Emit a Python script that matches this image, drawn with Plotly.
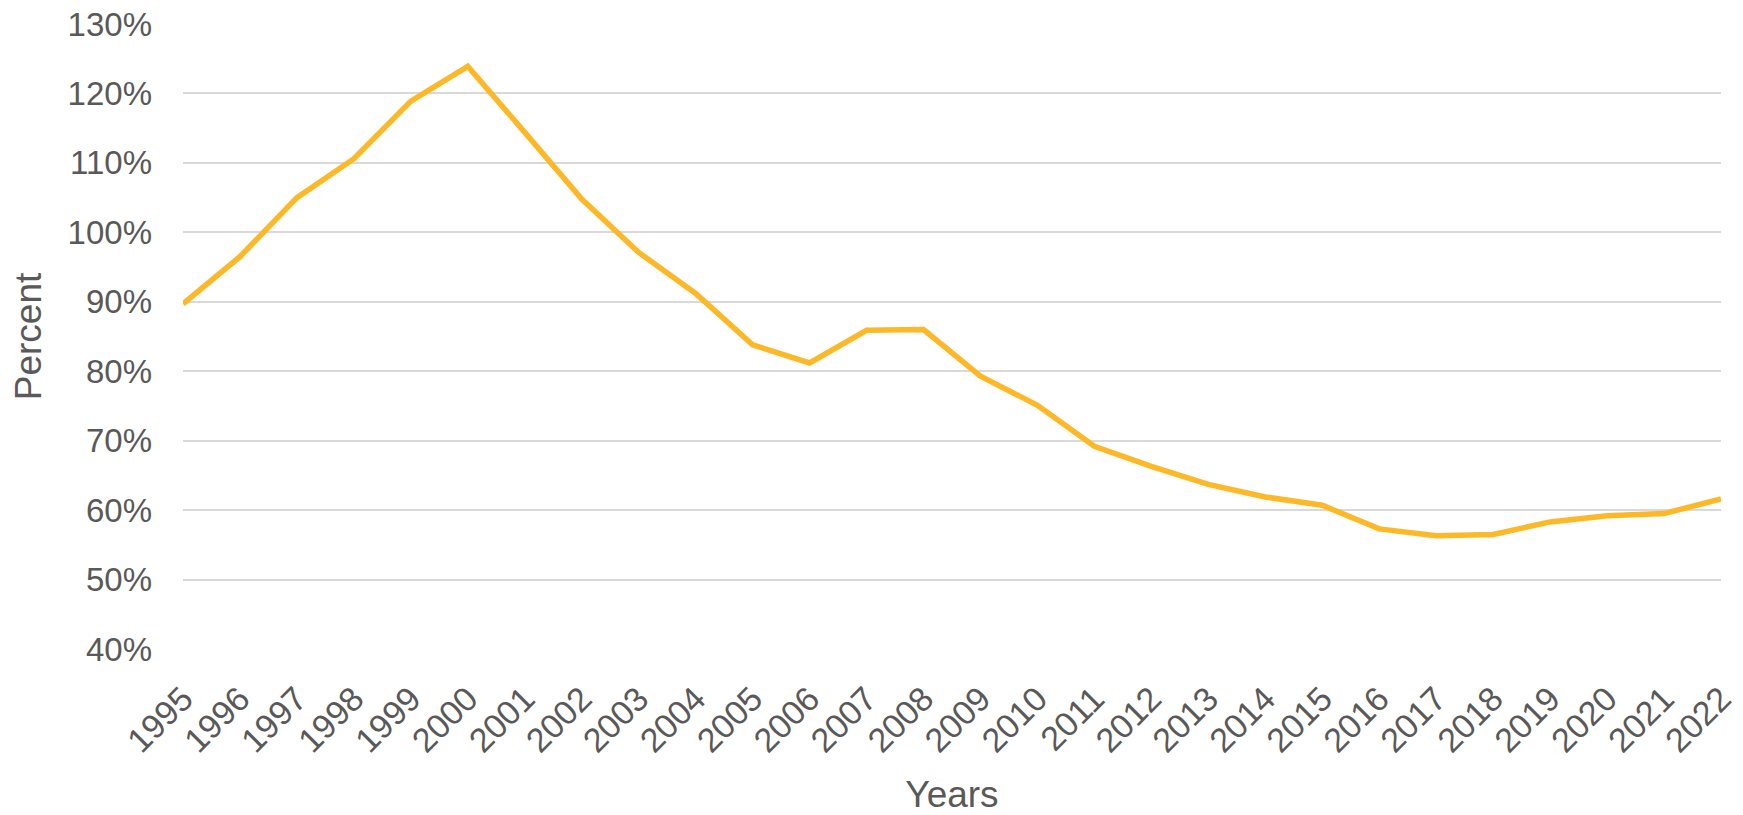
import plotly.graph_objects as go

years = list(range(1995, 2023))
percent = [89.7, 96.5, 105.0, 110.6, 118.9, 123.9, 114.4, 104.8, 97.1, 91.2,
           83.8, 81.2, 85.9, 86.0, 79.3, 75.1, 69.2, 66.3, 63.7, 61.9,
           60.7, 57.3, 56.3, 56.5, 58.3, 59.2, 59.5, 61.6]
y_ticks = list(range(40, 131, 10))

fig = go.Figure(
    go.Scatter(
        x=years,
        y=percent,
        mode="lines",
        line=dict(color="#FDB827", width=5.5),
        hoverinfo="x+y",
    )
)

font_family = "Liberation Sans, Arial, sans-serif"
grey = "#595959"

fig.update_layout(
    width=1743,
    height=815,
    margin=dict(l=183, r=22, t=24, b=166),
    plot_bgcolor="white",
    paper_bgcolor="white",
    showlegend=False,
    font=dict(family=font_family, color=grey),
    xaxis=dict(
        range=[1995, 2022],
        tickvals=years,
        ticktext=[str(y) for y in years],
        tickangle=-45,
        tickfont=dict(size=34, color=grey),
        showgrid=False,
        zeroline=False,
        showline=False,
        ticks="",
        ticklabelstandoff=22,
        automargin=False,
        title=dict(text="Years", font=dict(size=37, color=grey), standoff=26),
    ),
    yaxis=dict(
        range=[40, 130],
        tickvals=y_ticks,
        ticktext=[f"{v}%" for v in y_ticks],
        tickfont=dict(size=33, color=grey),
        showgrid=True,
        gridcolor="#D9D9D9",
        gridwidth=1.5,
        zeroline=False,
        showline=False,
        ticks="",
        ticklabelstandoff=30,
        automargin=False,
        title=dict(text="Percent", font=dict(size=37, color=grey), standoff=14),
    ),
)

fig.write_html("out.html")
